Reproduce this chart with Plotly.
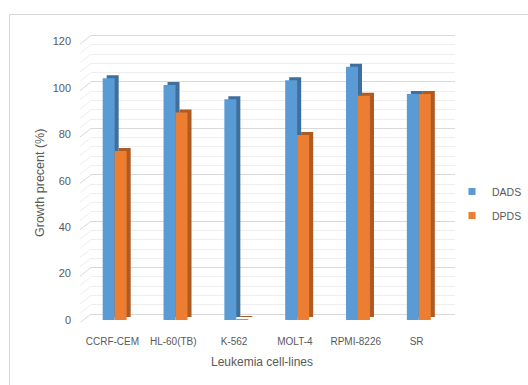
import plotly.graph_objects as go

# ---- data ----
categories = ["CCRF-CEM", "HL-60(TB)", "K-562", "MOLT-4", "RPMI-8226", "SR"]
dads = [104.2, 101.3, 95.1, 103.3, 109.2, 97.4]
dpds = [72.8, 89.4, 0.3, 79.7, 96.7, 97.4]
series_names = ["DADS", "DPDS"]
y_ticks = [0, 20, 40, 60, 80, 100, 120]

W, H = 528, 385
def fx(p):
    return p / W
def fy(p):
    return 1 - p / H

PX_PER_UNIT = 2.32
DEPTH_X = 0.066        # category units (~4 px)
DEPTH_Y = 3 / PX_PER_UNIT  # value units (~3 px)
BAR_W = 0.197

front = {"DADS": "#5B9BD5", "DPDS": "#ED7D31"}
side = {"DADS": "#3F6F9C", "DPDS": "#AE5A21"}
offs = {"DADS": -0.16, "DPDS": 0.037}
vals = {"DADS": dads, "DPDS": dpds}

xs = list(range(len(categories)))

fig = go.Figure()

# empty trace for the back-wall grid subplot
fig.add_trace(go.Scatter(x=[None], y=[None], xaxis="x", yaxis="y",
                         showlegend=False, hoverinfo="skip"))

for name in series_names:
    v = vals[name]
    fig.add_trace(go.Bar(
        x=xs, y=v, base=[DEPTH_Y] * len(v), offset=offs[name] + DEPTH_X, width=BAR_W,
        marker=dict(color=side[name], line=dict(width=0)),
        xaxis="x2", yaxis="y2", showlegend=False, hoverinfo="skip"))
    fig.add_trace(go.Bar(
        x=xs, y=v, offset=offs[name], width=BAR_W, name=name,
        marker=dict(color=front[name], line=dict(width=0)),
        xaxis="x2", yaxis="y2", showlegend=False))

for i, name in enumerate(series_names):
    fig.add_trace(go.Scatter(
        x=[None], y=[None], mode="markers", name=name, legendgroup=name,
        marker=dict(symbol="square", size=7, color=front[name]),
        xaxis="x2", yaxis="y2"))

ydom = [fy(322), fy(30)]
grid_major = "#D9D9D9"
grid_minor = "#EEEEEE"

shapes = []
# side-wall diagonal lines tied to the grid values
for v in range(0, 121, 4):
    shapes.append(dict(type="line", xref="paper", yref="y",
                       x0=fx(80), x1=fx(91), y0=v - 3.7, y1=v,
                       line=dict(color=grid_major if v % 20 == 0 else grid_minor, width=1),
                       layer="below"))
# chart frame
shapes.append(dict(type="rect", xref="paper", yref="paper",
                   x0=fx(9.5), x1=1.2, y0=fy(14.5), y1=-0.2,
                   line=dict(color="#D9D9D9", width=1), layer="below"))

txt = "#595959"
font_family = "Liberation Sans, Arial, sans-serif"

fig.update_layout(
    width=W, height=H,
    template="none",
    paper_bgcolor="white", plot_bgcolor="rgba(0,0,0,0)",
    margin=dict(l=0, r=0, t=0, b=0),
    barmode="overlay",
    font=dict(family=font_family, color=txt),
    xaxis=dict(domain=[fx(91), fx(455)], range=[0, 1], visible=False,
               anchor="y", automargin=False),
    yaxis=dict(domain=ydom, range=[-3.45, 122.4], anchor="x",
               tick0=0, dtick=20, showgrid=True, gridcolor=grid_major, gridwidth=1,
               showticklabels=False, zeroline=False, showline=False, ticks="",
               minor=dict(dtick=4, showgrid=True, gridcolor=grid_minor, gridwidth=1),
               automargin=False),
    xaxis2=dict(domain=[fx(82), fx(447)], range=[-0.5, 5.5], anchor="y2",
                tickmode="array", tickvals=xs, ticktext=categories,
                showgrid=False, zeroline=False, showline=False, ticks="",
                tickfont=dict(size=10, color=txt), ticklabelstandoff=12,
                automargin=False),
    yaxis2=dict(domain=ydom, range=[-0.86, 125], anchor="x2",
                tickmode="array", tickvals=y_ticks,
                showgrid=False, zeroline=False, showline=False, ticks="",
                tickfont=dict(size=11, color=txt), ticklabelstandoff=10,
                automargin=False),
    legend=dict(x=fx(452), y=fy(177), xanchor="left", yanchor="top",
                font=dict(size=10.5, color=txt), bgcolor="rgba(0,0,0,0)",
                tracegroupgap=5, traceorder="grouped", itemclick=False),
    shapes=shapes,
    annotations=[
        dict(text="Growth precent (%)", xref="paper", yref="paper",
             x=fx(40), y=fy(183), textangle=-90, showarrow=False,
             font=dict(size=12.5, color=txt), xanchor="center", yanchor="middle"),
        dict(text="Leukemia cell-lines", xref="paper", yref="paper",
             x=fx(262), y=fy(362), showarrow=False,
             font=dict(size=12, color=txt), xanchor="center", yanchor="middle"),
    ],
)

fig.write_html("out.html", config={"displayModeBar": False},
               post_script="document.body.style.margin='0';document.body.style.overflow='hidden';")
